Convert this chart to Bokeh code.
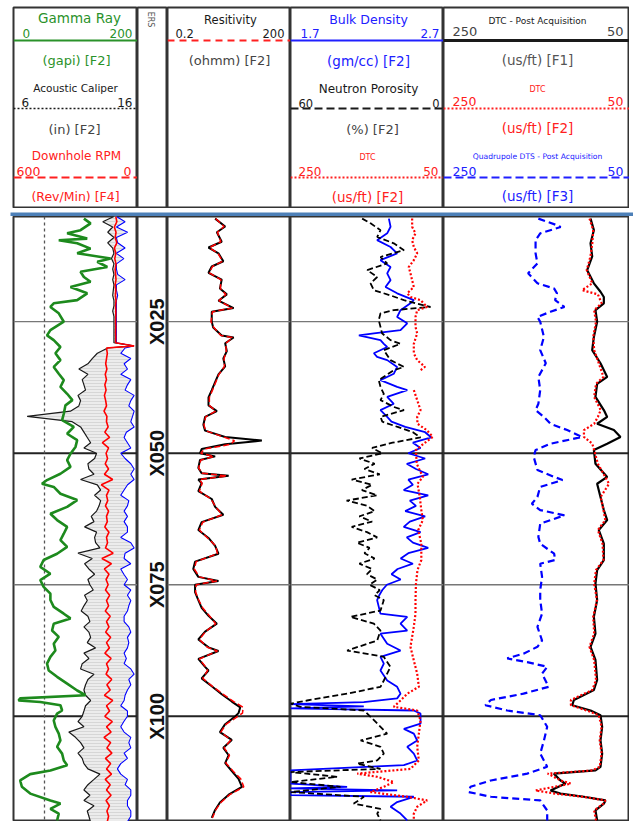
import math
from bokeh.plotting import figure
from bokeh.models import Range1d, Span
from bokeh.layouts import column, row
from bokeh.embed import file_html
from bokeh.resources import INLINE
from bokeh.core.properties import value

NAN = float("nan")

# ---------------- data ----------------
DEPTH_MARKS = [25, 50, 75, 100]
DEPTH_LABELS = ["X025", "X050", "X075", "X100"]
BIT_SIZE = 8.5

# Track 1 (shared depth grid for caliper / second caliper / RPM)
T1_DEPTH = [5, 6, 7, 8, 9, 10, 11, 12, 13, 14,
            15, 16, 17, 18, 19, 20, 21, 22, 23, 24,
            25, 26, 27, 28, 29, 29.6,
            30, 31, 32, 33, 34, 35, 36, 37, 38, 39,
            40, 41, 42, 43, 44, 45, 46, 47, 48, 49,
            50, 51, 52, 53, 54, 55, 56, 57, 58, 59,
            60, 61, 62, 63, 64, 65, 66, 67, 68, 69,
            70, 71, 72, 73, 74, 75, 76, 77, 78, 79,
            80, 81, 82, 83, 84, 85, 86, 87, 88, 89,
            90, 91, 92, 93, 94, 95, 96, 97, 98, 99,
            100, 101, 102, 103, 104, 105, 106, 107, 108, 109,
            110, 111, 112, 113, 114, 115, 116, 117, 118, 119, 120]
CAL = [14.1, 13.2, 14.0, 13.6, 14.1, 13.6, 14.0, 14.1, 13.9, 14.1,
       14.0, 14.1, 14.0, 14.1, 14.05, 14.0, 14.1, 14.1, 14.0, 14.1,
       14.1, 14.1, 14.1, 14.1, 14.1, 15.7,
       13.6, 12.76, 12.35, 12.0, 11.27, 12.0, 11.54, 11.68, 11.81, 11.2,
       11.41, 11.27, 10.59, 7.1, 10.73, 11.41, 11.68, 11.95, 12.22, 11.68,
       12.7, 12.54, 12.0, 12.08, 12.49, 11.41, 12.76, 13.03, 12.54, 13.03,
       12.9, 12.7, 12.27, 12.49, 11.73, 12.7, 12.54, 12.62, 12.97, 11.2,
       12.35, 11.73, 12.08, 12.54, 12.0, 12.16, 12.43, 11.73, 11.95, 11.68,
       11.46, 12.0, 12.16, 11.68, 12.08, 12.22, 11.95, 12.62, 11.68, 12.08,
       11.54, 11.41, 12.49, 12.0, 11.81, 11.68, 11.81, 12.22, 11.81, 11.68,
       11.54, 11.2, 11.68, 10.46, 11.0, 11.41, 11.68, 11.2, 11.54, 11.68,
       12.0, 12.97, 12.49, 12.0, 11.68, 12.16, 11.68, 12.49, 11.95, 12.08, 12.2]
CAL2 = [14.3, 15.0, 14.3, 15.2, 14.3, 14.4, 15.0, 14.3, 14.9, 14.3,
        14.3, 14.4, 15.0, 14.3, 14.3, 14.4, 14.3, 14.3, 14.3, 14.3,
        14.3, 14.3, 14.3, 14.3, 14.3, 15.7,
        15.0, 14.65, 15.46, 14.92, 15.19, 14.65, 15.46, 15.19, 15.0, 15.73,
        15.46, 15.3, 15.73, 15.6, 15.46, 15.73, 15.1, 14.92, 15.19, 15.46,
        14.65, 15.0, 15.46, 15.73, 15.46, 15.73, 15.2, 14.92, 14.65, 15.3,
        15.19, 14.92, 15.19, 14.92, 15.19, 15.19, 14.65, 15.46, 15.73, 15.0,
        14.92, 15.46, 14.65, 14.9, 15.19, 14.92, 15.46, 15.19, 15.46, 15.3,
        15.19, 14.92, 14.92, 15.3, 15.46, 15.19, 15.3, 15.19, 14.92, 15.1,
        14.92, 15.46, 15.73, 15.3, 15.46, 15.19, 15.0, 14.92, 14.65, 15.19,
        15.19, 14.9, 14.65, 14.92, 15.46, 15.3, 15.46, 14.92, 15.19, 14.65,
        14.38, 14.65, 15.19, 15.0, 15.46, 15.46, 15.19, 15.19, 15.46, 15.46, 15.2]
RPM = [105, 100, 112, 104, 108, 100, 112, 105, 110, 104,
       108, 106, 104, 108, 105, 107, 104, 106, 105, 105,
       106, 105, 106, 105, 106, 16,
       150, 146, 150, 154, 148, 156, 150, 158, 152, 160,
       154, 150, 162, 148, 150, 142, 158, 135, 170, 140,
       152, 145, 156, 140, 160, 120, 175, 138, 150, 144,
       155, 140, 150, 146, 158, 138, 150, 145, 155, 118,
       172, 126, 160, 138, 152, 142, 155, 135, 150, 140,
       156, 132, 150, 138, 154, 130, 150, 136, 158, 128,
       150, 140, 152, 125, 148, 132, 160, 120, 150, 135,
       158, 122, 150, 128, 162, 130, 148, 124, 155, 130,
       150, 126, 156, 132, 150, 128, 152, 136, 148, 140, 146]

GR_DEPTH = [5.4, 6.3, 7.6, 8.2, 9.2, 9.5, 10.1, 11.1, 12.0, 13.0,
            13.6, 14.6, 15.5, 16.5, 17.4, 18.4, 19.6, 20.9, 21.5, 22.2,
            23.4, 25.0, 26.6, 27.6, 28.5, 29.8, 31.0, 32.3, 33.6, 34.9,
            36.1, 37.4, 38.7, 39.9, 40.9, 42.5, 43.7, 45.0, 46.3, 47.5,
            48.8, 50.1, 51.3, 52.6, 53.9, 55.1, 55.8, 56.4, 57.7, 58.9,
            60.2, 61.5, 62.7, 64.0, 65.3, 66.5, 67.8, 69.1, 70.3, 71.6,
            72.9, 74.1, 75.4, 76.7, 77.9, 79.2, 80.5, 81.4, 82.4, 83.7,
            84.9, 86.2, 87.5, 88.7, 90.0, 91.3, 92.5, 93.8, 95.1, 96.0,
            96.6, 97.0, 97.3, 97.9, 98.9, 99.5, 100.8, 102.0, 103.3, 104.6,
            105.8, 107.1, 108.4, 109.3, 110.3, 111.0, 112.2, 113.4, 114.7, 116.0,
            116.6, 117.6, 118.5, 119.8]
GR = [113.5, 124.3, 108.1, 86.5, 118.9, 73.0, 102.7, 124.3, 102.7, 156.7,
      135.1, 151.3, 108.1, 113.5, 124.3, 91.9, 118.9, 102.7, 64.9, 59.5,
      73.0, 81.1, 59.5, 54.1, 64.9, 75.7, 67.6, 75.7, 64.9, 73.0,
      81.1, 75.7, 86.5, 95.0, 83.8, 81.1, 78.4, 97.3, 86.5, 102.7,
      100.0, 91.9, 86.5, 91.9, 75.7, 54.1, 45.9, 64.9, 75.7, 102.7,
      86.5, 59.5, 70.3, 86.5, 81.1, 75.7, 86.5, 70.3, 48.6, 43.2,
      59.5, 43.2, 48.6, 59.5, 59.5, 64.9, 81.1, 91.9, 64.9, 62.2,
      73.0, 64.9, 67.6, 59.5, 54.1, 56.8, 70.3, 86.5, 102.7, 116.2,
      10.8, 8.1, 43.2, 75.7, 78.4, 70.3, 64.9, 67.6, 73.0, 75.7,
      70.3, 78.4, 81.1, 86.5, 59.5, 27.0, 10.8, 13.5, 27.0, 59.5,
      75.7, 59.5, 73.0, 70.3]

# Track 2 resistivity
RES_DEPTH = [5.4, 6.9, 8.0, 9.8, 10.9, 12.0, 13.5, 14.5, 15.7, 17.0,
             18.7, 19.8, 21.0, 22.4, 23.1, 25.0, 26.1, 27.6, 28.0, 29.1,
             30.6, 32.0, 33.5, 35.0, 36.5, 38.0, 39.4, 40.9, 42.0, 43.1,
             44.6, 45.7, 46.9, 47.6, 48.3, 49.2, 50.0, 50.6, 51.3, 52.8,
             53.8, 54.3, 55.0, 55.7, 57.2, 58.7, 60.2, 61.7, 63.1, 64.6,
             66.1, 67.6, 69.1, 70.6, 72.0, 73.5, 74.3, 75.0, 76.4, 77.9,
             79.4, 80.9, 82.4, 83.9, 85.4, 86.9, 87.6, 89.1, 90.6, 91.3,
             92.8, 94.3, 95.8, 97.2, 98.3, 99.4, 100.0, 101.5, 103.0, 104.5,
             106.0, 107.4, 108.9, 110.4, 111.9, 113.4, 114.9, 116.4, 117.8, 119.3]
RES = [2.9, 5.1, 3.2, 4.2, 2.0, 3.5, 4.6, 2.4, 2.0, 4.2,
       3.8, 5.6, 3.5, 8.2, 2.4, 2.4, 2.6, 4.2, 8.2, 5.1,
       5.6, 4.6, 5.1, 3.5, 2.9, 2.4, 2.0, 2.0, 3.2, 1.65,
       1.5, 1.65, 5.1, 40.0, 5.1, 1.36, 1.24, 2.9, 1.24, 1.13,
       1.36, 6.2, 1.13, 1.36, 1.13, 2.4, 2.9, 4.6, 1.36, 1.13,
       2.0, 2.9, 3.5, 0.94, 0.85, 1.13, 3.5, 0.94, 0.94, 1.13,
       1.36, 2.0, 3.2, 1.65, 1.13, 2.0, 3.5, 1.13, 1.65, 2.0,
       1.36, 2.4, 4.2, 7.4, 11.9, 10.8, 9.0, 5.1, 3.8, 7.4,
       4.6, 6.2, 5.1, 7.4, 10.8, 13.1, 6.2, 3.8, 2.9, 2.4]
RES_RED = [3.0, 4.8, 3.3, 4.0, 2.1, 3.4, 4.4, 2.5, 2.1, 4.0,
           3.9, 5.3, 3.6, 7.6, 2.5, 2.3, 2.7, 4.0, 7.8, 5.3,
           5.4, 4.8, 4.9, 3.6, 3.0, 2.5, 2.1, 2.1, 3.0, 1.7,
           1.55, 1.7, 4.6, 8.6, 7.0, 1.6, 1.3, 2.7, 1.3, 1.15,
           1.4, 5.6, 1.2, 1.4, 1.2, 2.3, 3.0, 4.3, 1.45, 1.2,
           1.9, 3.0, 3.3, 1.0, 0.9, 1.2, 3.2, 1.0, 0.97, 1.15,
           1.45, 2.1, 3.0, 1.7, 1.2, 1.9, 3.3, 1.2, 1.7, 1.9,
           1.45, 2.5, 4.5, 8.2, 14.0, 13.5, 10.5, 5.4, 4.0, 7.0,
           4.8, 6.5, 5.3, 7.9, 12.2, 14.5, 6.6, 4.0, 3.0, 2.5]

# Track 3
RHOB_DEPTH = [5.4, 6.95, 8.2, 9.5, 10.8, 12.0, 13.3, 14.6, 15.8, 17.1,
              18.4, 19.6, 20.9, 21.5, 22.8, 24.1, 25.3, 26.6, 27.2, 27.6,
              28.5, 29.2, 29.8, 31.0, 31.7, 32.3, 33.6, 34.9, 36.1, 37.4,
              38.0, 39.3, 40.6, 41.8, 43.1,
              44, 45, 46, 47, 48, 49, 50, 51, 52, 53,
              54, 55, 56, 57, 58, 59, 60, 61, 62, 63,
              64, 65, 66, 67, 68, 69, 70, 71, 72, 73,
              74, 75, 76, 77,
              77.9, 79.2, 80.5, 81.1, 82.4, 83.7, 84.3, 86.2, 87.5, 88.7,
              90.0, 91.3, 93.2, 94.4, 95.7, 96.6, 97.3, 97.7, 98.1, 98.5,
              98.9, 99.5, 101.4, 102.4, 103.3, 104.6, 105.8, 107.1, 108.4, 109.3,
              110.3, 112.2, 112.8, 113.4, 113.7, 114.1, 114.4, 115.0, 115.3, 116.3,
              117.2, 118.5, 119.8]
RHOB = [2.343, 2.354, 2.332, 2.266, 2.354, 2.397, 2.288, 2.354, 2.332, 2.354,
        2.321, 2.397, 2.506, 2.484, 2.419, 2.397, 2.463, 2.419, 2.245, 2.147,
        2.288, 2.31, 2.332, 2.245, 2.266, 2.332, 2.397, 2.375, 2.288, 2.397,
        2.463, 2.332, 2.375, 2.288, 2.332,
        2.36, 2.45, 2.58, 2.62, 2.50, 2.55, 2.47, 2.58, 2.46, 2.52,
        2.60, 2.47, 2.50, 2.44, 2.60, 2.48, 2.52, 2.45, 2.58, 2.48,
        2.44, 2.55, 2.46, 2.50, 2.60, 2.47, 2.42, 2.50, 2.40, 2.36,
        2.42, 2.33, 2.30, 2.28,
        2.266, 2.277, 2.288, 2.463, 2.419, 2.463, 2.288, 2.332, 2.419, 2.288,
        2.31, 2.288, 2.332, 2.397, 2.419, 2.397, 2.179, 1.70, 2.179, 1.70,
        2.506, 2.55, 2.55, 2.441, 2.506, 2.528, 2.463, 2.506, 2.528, 2.441,
        1.70, 1.70, 1.70, 2.07, 1.70, 2.397, 1.70, 1.70, 2.506, 2.397,
        2.354, 2.419, 2.463]
NPHI_DEPTH = [5.4, 6.3, 7.6, 8.9, 10.1, 11.4, 12.7, 13.9, 15.2, 16.5,
              17.7, 19.0, 20.0, 20.9, 22.2, 22.8, 23.4, 24.7, 26.0, 27.2,
              28.5, 29.2, 30.4, 32.3, 33.6, 34.2, 36.1, 37.4, 38.7, 39.9,
              41.2, 41.8, 43.1,
              44, 45, 46, 47, 48, 49, 50, 51, 52, 53,
              54, 55, 56, 57, 58, 59, 60, 61, 62, 63,
              64, 65, 66, 67, 68, 69, 70, 71, 72, 73,
              74, 75, 76, 77,
              77.9, 79.9, 81.1, 82.4, 83.7, 85.6, 87.5, 88.7, 90.6, 91.9,
              93.2, 94.4, 95.7, 97.0, 97.6, 98.2, 98.9, 100.1, 102.0, 103.3,
              104.6, 105.8, 107.1, 108.4, 109.0, 110.0, 110.6, 111.5, 112.5, 113.4,
              114.4, 115.3, 116.6, 117.6, 118.5, 119.8]
NPHI = [31.9, 28.6, 24.7, 26.0, 19.5, 15.5, 24.7, 22.1, 29.9, 26.0,
        28.6, 27.3, 20.8, 15.5, 5.1, 19.5, 24.7, 25.4, 24.7, 24.1,
        20.8, 16.9, 23.4, 20.8, 15.5, 19.5, 25.4, 24.7, 23.4, 24.7,
        19.5, 15.5, 24.7,
        24, 18, 12, 9, 20, 28, 24, 33, 27, 31,
        25, 36, 28, 32, 26, 38, 30, 27, 33, 28,
        36, 30, 26, 34, 29, 31, 27, 33, 28, 30,
        26, 29, 25, 27,
        23.4, 24.7, 36.5, 27.3, 24.7, 26.0, 37.8, 23.4, 20.8, 22.1,
        23.4, 24.7, 37.8, 53.5, 60, 56.1, 31.2, 28.6, 24.7, 22.1,
        32.5, 24.7, 23.4, 26.0, 33.9, 24.7, 60, 41.7, 60, 40.4,
        60, 31.2, 35.2, 24.7, 26.0, 24.7]
DTC3_DEPTH = [5.4, 6.95, 8.2, 9.5, 10.8, 12.0, 13.3, 14.6, 15.8, 18.4,
              19.6, 20.3, 20.9, 22.2, 22.8, 24.1, 26.0, 27.2, 29.2, 31.0,
              32.3, 33.6, 34.2, 35.0, 38.0, 39.9, 41.8, 43.1, 44.4, 45.6,
              46.9, 48.2, 49.4, 52.0, 54.5, 55.8, 58.3, 60.8, 62.7, 64.6,
              67.2, 70.3, 72.2, 74.8, 77.9, 80.5, 83.0, 86.8, 89.4, 91.9,
              94.4, 95.7, 97.0, 98.2, 98.9, 100.8, 103.3, 105.8, 108.4, 110.0,
              110.9, 111.5, 112.5, 113.4, 114.4, 115.3, 116.0, 117.2, 118.5, 119.8]
DTC3 = [91, 91, 86.6, 91, 88.8, 84.4, 88.8, 95.4, 93.2, 88.8,
        97.4, 93.2, 80, 71.4, 84.4, 86.6, 86.6, 84.4, 88.8, 88.8,
        84.4, 74.2, 80, NAN, 88.8, 84.4, 80, 84.4, 84, 72,
        64, 76, 86, 85, 77, 84, 81, 79, 77, 83,
        79, 79, 84, 86, 86.6, 86.6, 88.8, 93.2, 88.8, 84.4,
        82.2, 97.4, 106.2, 115, 84.4, 80, 82.2, 84.4, 82.2, 93.2,
        162.8, 136.7, 115, 128, 145.4, 97.4, 71.4, 84.4, 88.8, 88.8]

# Track 4
T4_DEPTH = [5.4, 7.6, 10.1, 12.6, 15.2, 17.7, 19.3, 20.3, 21.5, 22.8,
            25.0, 27.9, 30.4, 32.9, 35.5, 36.8, 39.3, 41.8, 43.1, 44.4,
            45.6, 46.9, 48.2, 49.4, 52.0, 54.5, 55.8, 58.3, 60.8, 62.7,
            64.6, 67.2, 70.3, 72.2, 74.8, 77.9, 81.1, 84.3, 86.8, 89.3,
            93.1, 95.0, 96.9, 97.9, 98.9, 99.8, 102.0, 104.6, 107.1, 109.6,
            110.3, 110.9, 112.2, 112.8, 114.1, 114.7, 115.3, 116.0, 116.6, 117.9,
            119.8]
DTC_POST = [91.9, 88.3, 91.9, 90.1, 95.5, 88.3, 81.2, 77.6, 77.6, 86.6,
            84.8, 88.3, 90.1, 81.2, 74.0, 84.8, 86.6, 77.6, 74.0, 84.8,
            66.8, 59.7, 74.0, 88.3, 86.6, 74.0, 84.8, 81.2, 77.6, 74.0,
            83.0, 77.6, 77.6, 84.8, 86.6, 84.8, 88.3, 86.6, 91.9, 86.6,
            84.8, 88.3, 109.8, 111.6, 91.9, 81.2, 79.4, 81.2, 79.4, 81.2,
            86.6, 131.3, 124.2, 118.8, 134.9, 124.2, 99.1, 75.8, 77.6, 86.6,
            84.8]
DTC4_DEPTH = [5.4, 7.6, 10.1, 12.6, 15.2, 17.7, 19.0, 19.8, 21.5, 22.8,
              25.0, 27.9, 30.4, 32.9, 35.5, 36.8, 39.3, 41.8, 43.1, 44.4,
              45.6, 46.9, 48.2, 49.4, 52.0, 54.5, 55.8, 58.3, 60.8, 62.7,
              64.6, 67.2, 70.3, 72.2, 74.8, 77.9, 81.1, 84.3, 86.8, 89.3,
              93.1, 95.0, 96.9, 97.9, 98.9, 99.8, 102.0, 104.6, 107.1, 109.6,
              110.3, 110.9, 112.2, 112.8, 114.1, 114.7, 115.3, 116.0, 116.6, 117.9,
              119.8]
DTC4 = [93, 89, 90, 92, 96, 90, 101, 84, 80, 88,
        86, 89, 88, 83, 78, 86, 88, 81, 84, 88,
        99, 99, 90, 88, 84, 76, 72, 81, 78, 76,
        84, 79, 78, 86, 88, 85, 89, 88, 93, 88,
        86, 90, 113, 113, 96, 83, 80, 82, 80, 82,
        90, 138, 124, 113, 151, 130, 100, 76, 78, 88,
        86]
DTS_DEPTH = [5.4, 6.65, 7.0, 8.2, 9.5, 12.0, 13.9, 15.8, 17.7, 18.7,
             19.6, 20.9, 22.2, 23.1, 24.1, 25.0, 27.9, 30.4, 32.9, 35.5,
             38.0, 40.6, 41.8, 43.1, 44.4, 45.6, 46.9, 48.2, 49.4, 50.7,
             53.2, 54.5, 55.1, 56.4, 58.3, 59.6, 60.8, 61.8, 63.4, 65.9,
             67.2, 69.1, 70.3, 71.0, 73.5, 76.0, 77.9, 80.5, 83.0, 85.6,
             86.8, 88.1, 89.0, 89.7, 90.6, 91.9, 94.4, 95.7, 96.9, 97.9,
             98.9, 99.8, 102.0, 104.6, 107.1, 109.6, 110.9, 112.2, 113.4, 114.4,
             115.3, 116.0, 117.9, 119.8]
DTS = [148, 128, 124, 146, 151, 151, 149, 159, 149, 131,
       128, 130, 120, 135, 149, 146, 142, 146, 140, 148,
       146, 148, 151, 142, 135, 117, 101, 135, 151, 153,
       149, 131, 122, 146, 149, 155, 146, 120, 146, 148,
       146, 131, 130, 146, 144, 146, 146, 144, 149, 144,
       149, 164, 181.5, 160, 138.5, 144, 137, 164, 199, 205,
       181.5, 146, 138.5, 142, 146, 138.5, 160, 199, 221, 223,
       199, 146, 138.5, 138.5]

# ---------------- styling / layout ----------------
FONT = "DejaVu Sans"
BOLD_FONT = "Liberation Sans"
GREEN = "#2a922a"
GR_LINE = "#1d8a1d"
RED = "#ff2020"
BLUE = "#2020ff"
BLACK = "#1a1a1a"
GRAY = "#444444"
BAR_BLUE = "#4d80b8"
BORDER = "#333333"

HEAD_TOP = 7
HEADER_H = 208
BAR_H = 8
LOG_H = 605
TOP_DEPTH = 5.0
BOTTOM_DEPTH = 120.0
PAD = 13
W1, WD, W2, W3, W4 = 124, 30, 123, 153, 186
FH = HEADER_H - HEAD_TOP


def base_fig(w, h, x_range, y_range, pad=0, top=0, x_axis_type="linear"):
    p = figure(width=w + pad, height=h, x_range=x_range, y_range=y_range,
               x_axis_type=x_axis_type,
               x_axis_location=None, y_axis_location=None, toolbar_location=None,
               output_backend="svg", min_border=0)
    p.min_border_left = pad
    p.min_border_top = top
    p.grid.visible = False
    p.outline_line_color = BORDER
    p.outline_line_width = 2
    p.background_fill_color = "white"
    p.border_fill_color = "white"
    return p


def hfig(w, pad=0):
    return base_fig(w, HEADER_H, Range1d(0, w), Range1d(FH, 0), pad, HEAD_TOP)


def htext(p, x, y, s, color, size, align="center", font=FONT, angle=0.0):
    p.text(x=[x], y=[y], text=[s], text_color=color, text_font=value(font),
           text_font_size=f"{size}px", text_align=align, text_baseline="middle",
           angle=angle)


def hline(p, w, y, color, width, dash="solid"):
    p.segment(x0=[0], y0=[y], x1=[w], y1=[y], line_color=color,
              line_width=width, line_dash=dash)


# ---- headers ----
h1 = hfig(W1, PAD)
htext(h1, 66, 10, "Gamma Ray", GREEN, 13.5)
htext(h1, 9, 25.5, "0", GREEN, 12, "left")
htext(h1, 119, 25.5, "200", GREEN, 12, "right")
hline(h1, W1, 33, GREEN, 2)
htext(h1, 63, 53, "(gapi) [F2]", GREEN, 13)
htext(h1, 62, 80.5, "Acoustic Caliper", BLACK, 10.5)
htext(h1, 8, 94.5, "6", BLACK, 12, "left")
htext(h1, 119, 94.5, "16", BLACK, 12, "right")
hline(h1, W1, 101, BLACK, 1.6, "2 2")
htext(h1, 61, 121.5, "(in) [F2]", GRAY, 13)
htext(h1, 63, 148, "Downhole RPM", RED, 12)
htext(h1, 3, 163.5, "600", RED, 12.5, "left")
htext(h1, 118, 163.5, "0", RED, 12.5, "right")
hline(h1, W1, 170, RED, 1.8, "8 4")
htext(h1, 62, 188.5, "(Rev/Min) [F4]", RED, 12.5)

hd = hfig(WD)
htext(hd, 13, 12, "ERS", "#555555", 8, "center", angle=-math.pi / 2)

h2 = hfig(W2)
htext(h2, 63, 12, "Resitivity", BLACK, 11.5)
htext(h2, 8, 25.5, "0.2", BLACK, 11.5, "left")
htext(h2, 117, 25.5, "200", BLACK, 11.5, "right")
hline(h2, W2, 33, RED, 1.8, "7 5")
htext(h2, 62, 53, "(ohmm) [F2]", GRAY, 13)

h3 = hfig(W3)
htext(h3, 78, 11.5, "Bulk Density", BLUE, 12.5)
htext(h3, 10, 25.5, "1.7", BLUE, 12, "left")
htext(h3, 149, 25.5, "2.7", BLUE, 12, "right")
hline(h3, W3, 33, BLUE, 1.8)
htext(h3, 78, 53, "(gm/cc) [F2]", BLUE, 13.5)
htext(h3, 78, 81, "Neutron Porosity", BLACK, 12)
htext(h3, 8, 95.5, "60", BLACK, 11.5, "left")
htext(h3, 149, 95.5, "0", BLACK, 11.5, "right")
hline(h3, W3, 101, BLACK, 1.8, "8 4")
htext(h3, 82, 122, "(%) [F2]", GRAY, 13)
htext(h3, 77, 150, "DTC", RED, 8)
htext(h3, 8, 163.5, "250", RED, 12, "left")
htext(h3, 148, 163.5, "50", RED, 12, "right")
hline(h3, W3, 170, RED, 2, "2 2")
htext(h3, 77, 189, "(us/ft) [F2]", RED, 13.5)

h4 = hfig(W4)
htext(h4, 94, 13, "DTC - Post Acquisition", BLACK, 9)
htext(h4, 9, 24, "250", GRAY, 13, "left")
htext(h4, 180, 24, "50", GRAY, 13, "right")
hline(h4, W4, 33, BLACK, 3)
htext(h4, 94, 52.5, "(us/ft) [F1]", "#555555", 13.5)
htext(h4, 94, 82, "DTC", RED, 8)
htext(h4, 9, 93.5, "250", RED, 12.5, "left")
htext(h4, 180, 93.5, "50", RED, 12.5, "right")
hline(h4, W4, 101, RED, 2, "2 2")
htext(h4, 94, 120.5, "(us/ft) [F2]", RED, 13.5)
htext(h4, 94, 149, "Quadrupole DTS - Post Acquisition", BLUE, 7.6)
htext(h4, 9, 163.5, "250", BLUE, 12.5, "left")
htext(h4, 180, 163.5, "50", BLUE, 12.5, "right")
hline(h4, W4, 170, BLUE, 2, "8 4")
htext(h4, 94, 188.5, "(us/ft) [F3]", BLUE, 13.5)

# ---- blue separator bar ----
bar = figure(width=633, height=BAR_H, x_range=Range1d(0, 1), y_range=Range1d(0, 1),
             x_axis_location=None, y_axis_location=None, toolbar_location=None,
             output_backend="svg", min_border=0)
bar.min_border_left = 10
bar.grid.visible = False
bar.background_fill_color = BAR_BLUE
bar.border_fill_color = "white"
bar.outline_line_color = None

# ---- log tracks ----
depth_range = Range1d(BOTTOM_DEPTH, TOP_DEPTH)


def lfig(w, x_range, pad=0, x_axis_type="linear", grid=True):
    p = base_fig(w, LOG_H, x_range, depth_range, pad, 0, x_axis_type)
    if grid:
        for d in DEPTH_MARKS:
            major = (d % 50 == 0)
            p.add_layout(Span(location=d, dimension="width", level="underlay",
                              line_color="#222222" if major else "#777777",
                              line_width=2 if major else 1.3))
    return p


# Track 1
l1 = lfig(W1, Range1d(0, 200), PAD)
l1.extra_x_ranges = {"cal": Range1d(6, 16), "rpm": Range1d(600, 0)}
l1.add_layout(Span(location=BIT_SIZE, dimension="height", x_range_name="cal",
                   line_color="#555555", line_width=1.3, line_dash="3 3", level="underlay"))
l1.harea(x1=CAL, x2=CAL2, y=T1_DEPTH, x_range_name="cal", fill_color="#ececec",
         hatch_pattern="horizontal_line", hatch_color="#c8c8c8", hatch_scale=3,
         hatch_weight=0.6)
l1.line(CAL2, T1_DEPTH, x_range_name="cal", line_color="#0000ff", line_width=1.1)
l1.line(CAL, T1_DEPTH, x_range_name="cal", line_color=BLACK, line_width=1.2)
l1.line(RPM, T1_DEPTH, x_range_name="rpm", line_color="#ff0000", line_width=1.6)
l1.line(GR, GR_DEPTH, line_color=GR_LINE, line_width=2.6)

# Depth column
ld = lfig(WD, Range1d(0, WD), grid=False)
ld.text(x=[19] * len(DEPTH_MARKS), y=DEPTH_MARKS, text=DEPTH_LABELS, angle=math.pi / 2,
        text_font=value(BOLD_FONT), text_font_style="bold", text_font_size="20px",
        text_align="center", text_baseline="middle", text_color="#111111")

# Track 2
l2 = lfig(W2, Range1d(0.2, 200), x_axis_type="log")
l2.line(RES, RES_DEPTH, line_color="#000000", line_width=2)
l2.line(RES_RED, RES_DEPTH, line_color="#ff0000", line_width=1.5, line_dash="6 3")

# Track 3
l3 = lfig(W3, Range1d(1.7, 2.7))
l3.extra_x_ranges = {"nphi": Range1d(60, 0), "dtc": Range1d(250, 50)}
l3.line(RHOB, RHOB_DEPTH, line_color="#0000ff", line_width=1.8)
l3.line(NPHI, NPHI_DEPTH, x_range_name="nphi", line_color="#000000", line_width=1.8,
        line_dash="6 3")
l3.line(DTC3, DTC3_DEPTH, x_range_name="dtc", line_color="#ff0000", line_width=2.2,
        line_dash="2 2")

# Track 4
l4 = lfig(W4, Range1d(250, 50))
l4.line(DTS, DTS_DEPTH, line_color="#0000ff", line_width=2.2, line_dash="7 4")
l4.line(DTC_POST, T4_DEPTH, line_color="#000000", line_width=2.2)
l4.line(DTC4, DTC4_DEPTH, line_color="#ff0000", line_width=2.2, line_dash="2 2")

layout = column(row(h1, hd, h2, h3, h4), bar, row(l1, ld, l2, l3, l4))

open("out.html", "w").write(file_html(layout, INLINE))
